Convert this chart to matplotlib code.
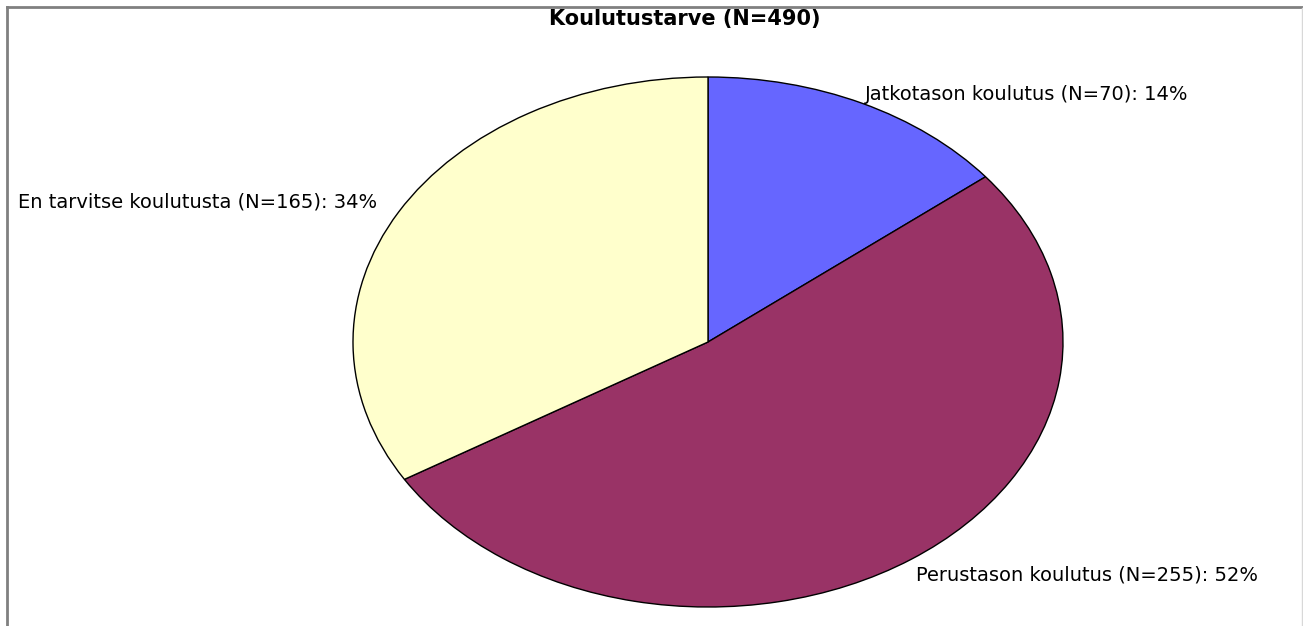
import matplotlib
matplotlib.use('Agg')
import matplotlib.pyplot as plt
from matplotlib.lines import Line2D

# DejaVu is the widest installed sans; the reference text is wide-set Arial
plt.rcParams['font.family'] = ['DejaVu Sans']

# Chart data
title = 'Koulutustarve (N=490)'
categories = ['Jatkotason koulutus', 'Perustason koulutus', 'En tarvitse koulutusta']
counts = [70, 255, 165]
percents = [14, 52, 34]
colors = ['#6666FF', '#993366', '#FFFFCC']

W, H = 1303, 626
fig = plt.figure(figsize=(W / 100, H / 100), dpi=100)

# Frame lines round the chart area (pixel coords converted to figure fractions)
fig.add_artist(Line2D([7 / W, 7 / W], [0, 1 - 7 / H], color='#808080', lw=2))
fig.add_artist(Line2D([7 / W, 1], [1 - 7 / H, 1 - 7 / H], color='#808080', lw=2))
fig.add_artist(Line2D([1302 / W, 1302 / W], [0, 1 - 8 / H], color='#d8d8d8', lw=1))

# Elliptical pie: axes box fitted to the ellipse, aspect left free
cx, cy, rx, ry = 708, 342, 355, 265
ax = fig.add_axes([(cx - rx) / W, (H - cy - ry) / H, 2 * rx / W, 2 * ry / H])
ax.pie(counts, colors=colors, startangle=90, counterclock=False,
       wedgeprops=dict(edgecolor='black', linewidth=1))
ax.set_aspect('auto')
ax.set_xlim(-1, 1)
ax.set_ylim(-1, 1)
ax.axis('off')

fig.text(685 / W, 1 - 19 / H, title, ha='center', va='center',
         fontsize=15, fontweight='bold')

# Label placement (left x, centre y in pixels)
label_pos = [(865, 94), (916, 575), (18, 202)]
for name, n, p, (lx, ly) in zip(categories, counts, percents, label_pos):
    fig.text(lx / W, 1 - ly / H, f'{name} (N={n}): {p}%',
             ha='left', va='center', fontsize=14)

fig.savefig('out.png', dpi=100)
